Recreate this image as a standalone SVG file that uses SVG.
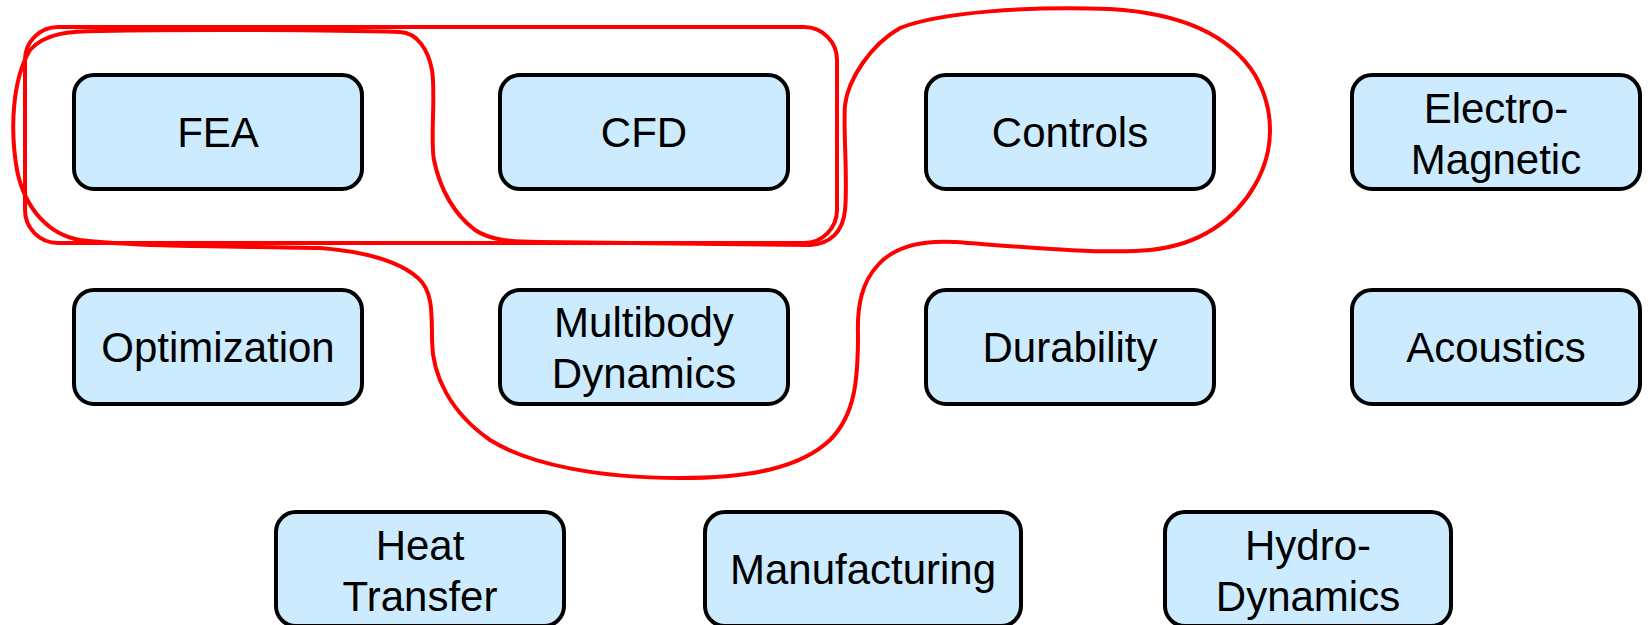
<svg xmlns="http://www.w3.org/2000/svg" width="1650" height="625" viewBox="0 0 1650 625">
<style>
.box{fill:#cdebff;stroke:#000;stroke-width:4}
.t{font-family:"Liberation Sans",Arial,sans-serif;font-size:42px;fill:#000;text-anchor:middle}
.red{fill:none;stroke:#ff0000;stroke-width:4;stroke-linejoin:round}
</style>
<rect width="1650" height="625" fill="#fff"/>
<g id="fea"><rect class="box" x="74" y="75" width="288" height="114" rx="20"/><text class="t" x="218" y="147">FEA</text></g>
<g id="cfd"><rect class="box" x="500" y="75" width="288" height="114" rx="20"/><text class="t" x="644" y="147">CFD</text></g>
<g id="controls"><rect class="box" x="926" y="75" width="288" height="114" rx="20"/><text class="t" x="1070" y="147">Controls</text></g>
<g id="electromagnetic"><rect class="box" x="1352" y="75" width="288" height="114" rx="20"/><text class="t" x="1496" y="123">Electro-</text><text class="t" x="1496" y="174">Magnetic</text></g>
<g id="optimization"><rect class="box" x="74" y="290" width="288" height="114" rx="20"/><text class="t" x="218" y="362">Optimization</text></g>
<g id="multibody"><rect class="box" x="500" y="290" width="288" height="114" rx="20"/><text class="t" x="644" y="337">Multibody</text><text class="t" x="644" y="388">Dynamics</text></g>
<g id="durability"><rect class="box" x="926" y="290" width="288" height="114" rx="20"/><text class="t" x="1070" y="362">Durability</text></g>
<g id="acoustics"><rect class="box" x="1352" y="290" width="288" height="114" rx="20"/><text class="t" x="1496" y="362">Acoustics</text></g>
<g id="heattransfer"><rect class="box" x="276" y="512" width="288" height="114" rx="20"/><text class="t" x="420" y="560">Heat</text><text class="t" x="420" y="611">Transfer</text></g>
<g id="manufacturing"><rect class="box" x="705" y="512" width="316" height="114" rx="20"/><text class="t" x="863" y="584">Manufacturing</text></g>
<g id="hydrodynamics"><rect class="box" x="1165" y="512" width="286" height="114" rx="20"/><text class="t" x="1308" y="560">Hydro-</text><text class="t" x="1308" y="611">Dynamics</text></g>
<g id="connectors">
<rect class="red" x="25" y="27" width="812" height="216" rx="33"/>
<path class="red" d="M 100 31 C 200 29, 330 30, 400 32 C 418 33, 428 50, 432 70 C 436 95, 430 140, 434 160 C 440 190, 455 215, 475 230 C 490 240, 510 242, 540 242 L 810 245 C 830 244, 843 232, 845 210 C 848 180, 843 130, 845 105 C 848 80, 870 45, 900 28 C 940 12, 1030 6, 1110 9 C 1180 13, 1230 35, 1255 75 C 1275 110, 1275 150, 1255 185 C 1235 220, 1200 245, 1150 250 C 1100 255, 1000 245, 955 242 C 920 240, 893 248, 878 265 C 862 282, 857 305, 858 335 C 858 380, 855 415, 830 440 C 800 468, 750 478, 680 478 C 600 478, 530 465, 490 440 C 450 412, 432 375, 432 340 C 432 310, 432 290, 418 278 C 400 262, 370 252, 320 248 C 250 246, 150 248, 80 240 C 50 235, 25 210, 17 170 C 10 130, 12 80, 30 50 C 45 33, 70 31, 100 31 Z"/>
</g>
</svg>
